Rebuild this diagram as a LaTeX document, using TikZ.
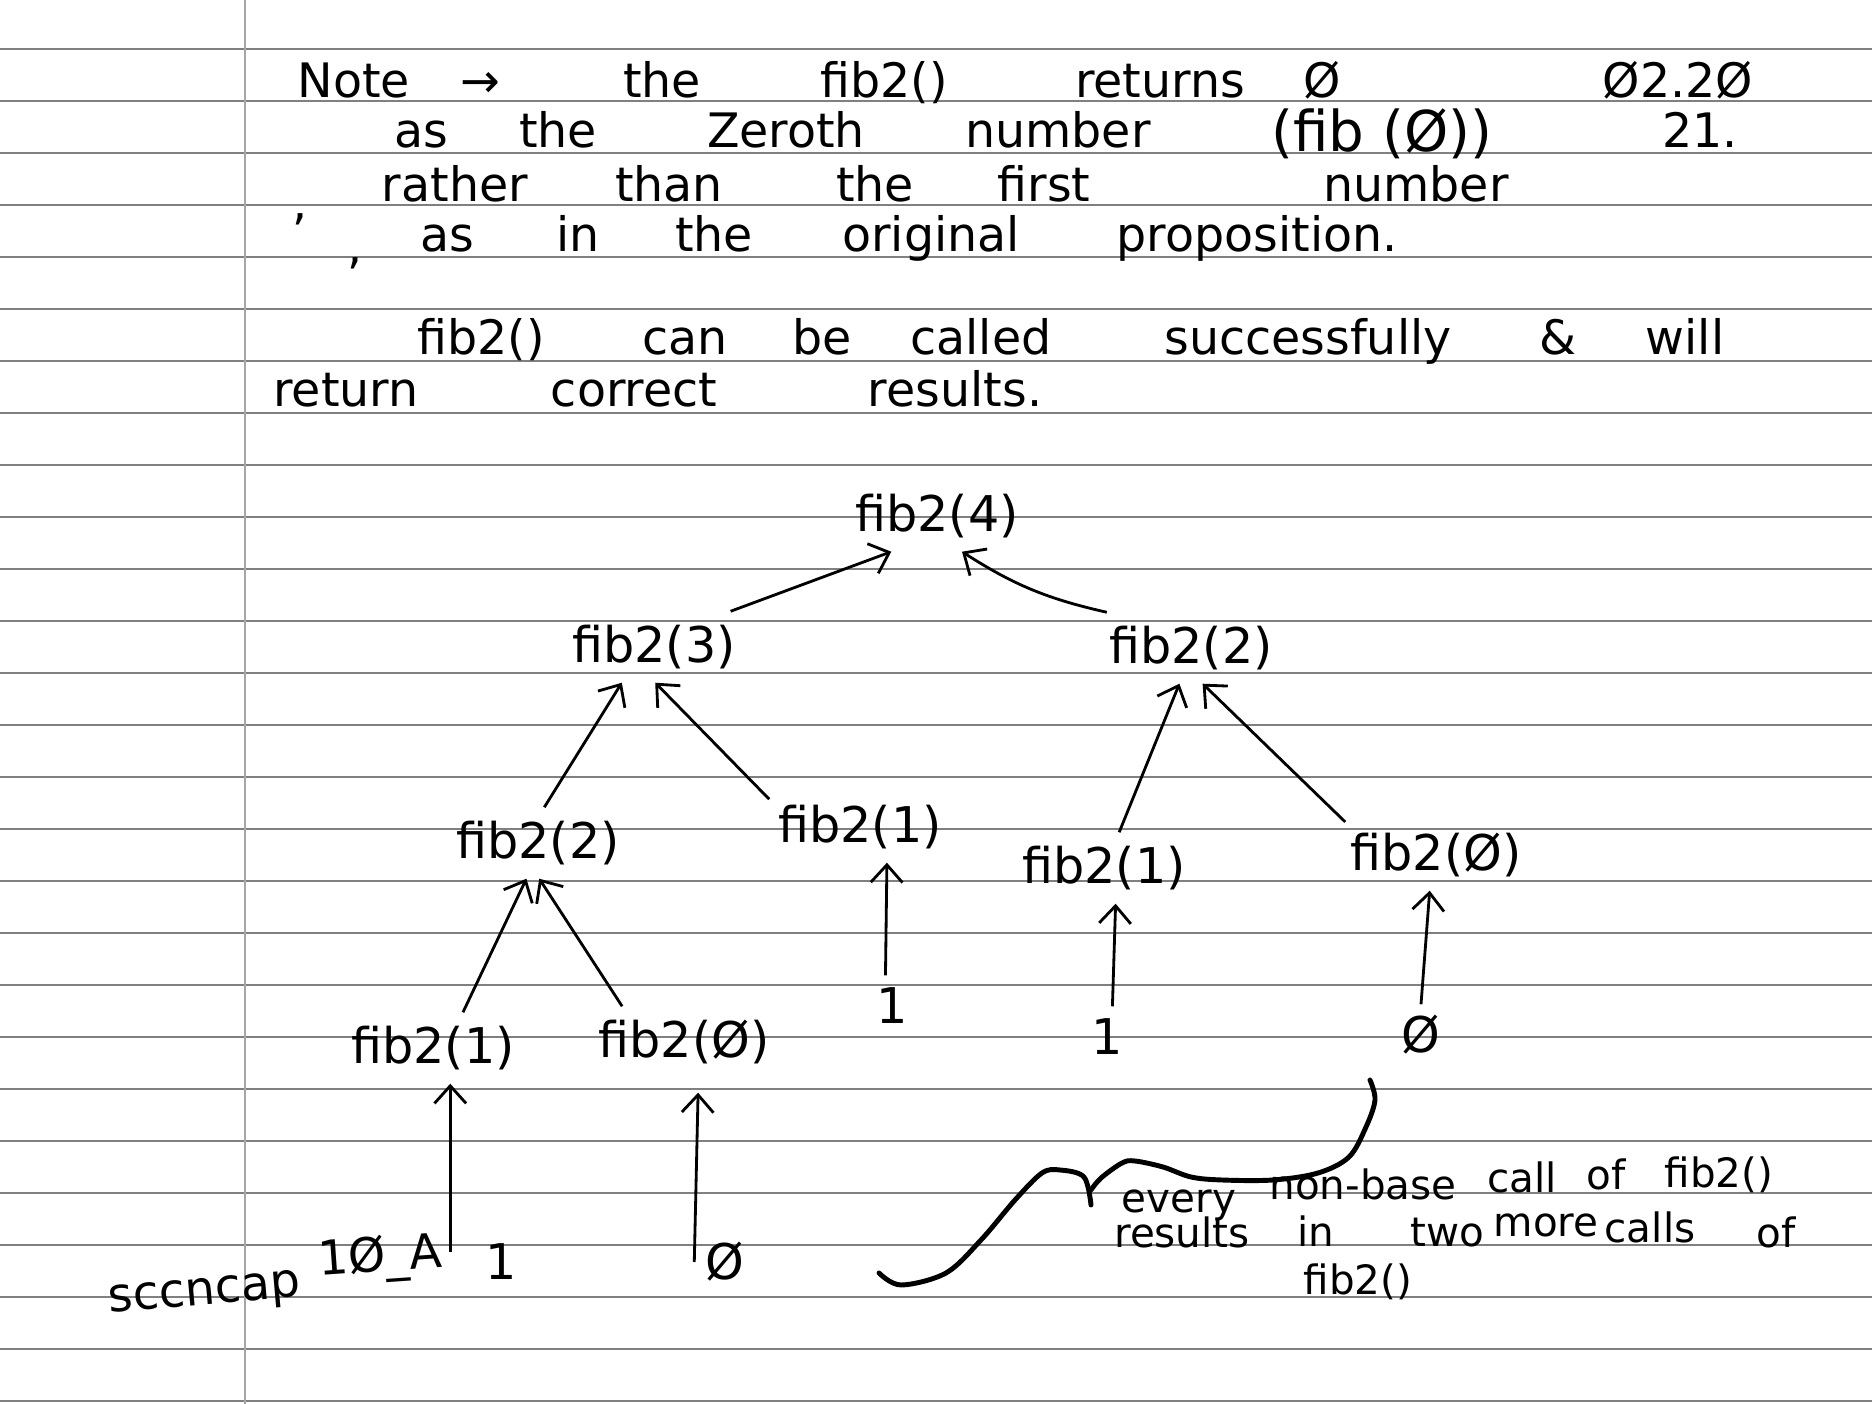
\documentclass[tikz,border=0pt]{standalone}
\usepackage{fontspec}
\setmainfont{DejaVu Sans}
\usetikzlibrary{arrows.meta}

\begin{document}
\begin{tikzpicture}[x=0.01cm,y=-0.01cm,>={Straight Barb[length=5pt,width=9pt]},
  hand/.style={anchor=base,inner sep=0pt,font=\fontsize{13.5}{16}\selectfont},
  small hand/.style={hand,font=\fontsize{11.5}{14}\selectfont},
  call/.style={rectangle,minimum width=1.8cm,minimum height=0.7cm,inner sep=0pt,font=\fontsize{14}{17}\selectfont},
  leaf/.style={call,minimum width=0.6cm,minimum height=0.6cm},
  link/.style={->,line width=0.8pt},
  rule/.style={black!50,line width=0.6pt},
  margin/.style={black!35,line width=0.35pt},
  brace/.style={line width=1.4pt,line cap=round,line join=round}]

  % paper
  \fill[white] (0,0) rectangle (1872,1404);
  \useasboundingbox (0,0) rectangle (1872,1404);
  \foreach \k in {0,...,26}
    \draw[rule] (0,{49.3+52*\k}) -- (1872,{49.3+52*\k});
  \draw[margin] (245,0) -- (245,1404);

  % note
  \foreach \x/\w [count=\i] in {354/Note, 480/→, 662/the, 884/fib2(), 1160/returns, 1322/Ø, 1678/Ø2.2Ø}
    \node[hand] (a\i) at (\x,98) {\w};
  \foreach \x/\w [count=\i] in {421/as, 558/the, 786/Zeroth, 1058/number, 1700/21.}
    \node[hand] (b\i) at (\x,148) {\w};
  \node[hand,font=\fontsize{16}{19}\selectfont] (fibz) at (1382,152) {(fib (Ø))};
  \foreach \x/\w [count=\i] in {455/rather, 669/than, 875/the, 1044/first, 1416/number}
    \node[hand] (c\i) at (\x,202) {\w};
  \node[hand] (comma1) at (300,220) {,};
  \foreach \x/\w [count=\i] in {447/as, 578/in, 714/the, 931/original, 1257/proposition.}
    \node[hand] (d\i) at (\x,252) {\w};
  \node[hand] (comma2) at (355,264) {,};
  \foreach \x/\w [count=\i] in {481/fib2(), 685/can, 822/be, 981/called, 1308/successfully, 1558/\&, 1685/will}
    \node[hand] (e\i) at (\x,355) {\w};
  \foreach \x/\w [count=\i] in {346/return, 634/correct, 955/results.}
    \node[hand] (g\i) at (\x,407) {\w};

  % calls
  \node[call] (f4) at (937,516) {fib2(4)};
  \node[call] (f3) at (654,647) {fib2(3)};
  \node[call] (f2b) at (1191,648) {fib2(2)};
  \node[call] (f2a) at (538,843) {fib2(2)};
  \node[call] (f1a) at (860,827) {fib2(1)};
  \node[call] (f1b) at (1104,868) {fib2(1)};
  \node[call] (f0a) at (1436,855) {fib2(Ø)};
  \node[call] (f1c) at (433,1048) {fib2(1)};
  \node[call] (f0b) at (684,1042) {fib2(Ø)};
  \node[leaf] (r1b) at (892,1006) {1};
  \node[leaf] (r1c) at (1107,1037) {1};
  \node[leaf] (r0b) at (1421,1035) {Ø};
  \node[leaf] (r1a) at (501,1262) {1};
  \node[leaf] (r0a) at (725,1262) {Ø};

  \draw[link] (f3.25) -- (f4.218);
  \draw[link] (f2b.157) to[bend left=10] (f4.305);
  \draw[link] (f2a.80) -- (f3.228);
  \draw[link] (f1a.163) -- (f3.272);
  \draw[link] (f1b.67) -- (f2b.252);
  \draw[link] (f0a.160) -- (f2b.288);
  \draw[link] (f1c.50) -- (f2a.252);
  \draw[link] (f0b.150) -- (f2a.272);
  \draw[link] (r1b.102) -- (f1a.307);
  \draw[link] (r1c.80) -- (f1b.288);
  \draw[link] (r0b.north) -- (f0a.260);
  \draw[link] ([xshift=-0.2cm,yshift=0.1cm]r1a.west) -- ([xshift=-0.2cm]r1a.west |- f1c.south);
  \draw[link,shorten >=0.15cm] (r0a.west) -- (f0b.292);

  \node[hand,anchor=center,rotate=5] (cap) at (205,1296) {sccncap};
  \node[hand,anchor=center,rotate=4] (capno) at (380,1259) {1Ø\_A};

  % brace and remark
  \draw[brace] plot[smooth,tension=0.55] coordinates {(879,1273) (901,1285) (946,1273) (981,1240) (1015,1200) (1042,1173) (1060,1170) (1084,1177) (1091,1205)};
  \draw[brace] plot[smooth,tension=0.55] coordinates {(1091,1190) (1101,1178) (1122,1163) (1135,1161) (1163,1167) (1191,1177) (1222,1180) (1273,1180) (1318,1173) (1349,1157) (1366,1127) (1375,1100) (1370,1080)};
  \foreach \x/\y/\w [count=\i] in {1179/1213/every, 1363/1200/non-base, 1522/1193/call, 1606/1190/of, 1719/1188/fib2(),
    1182/1248/results, 1316/1247/in, 1447/1247/two, 1546/1237/more, 1650/1243/calls, 1776/1248/of, 1358/1295/fib2()}
    \node[small hand] (h\i) at (\x,\y) {\w};
\end{tikzpicture}
\end{document}
